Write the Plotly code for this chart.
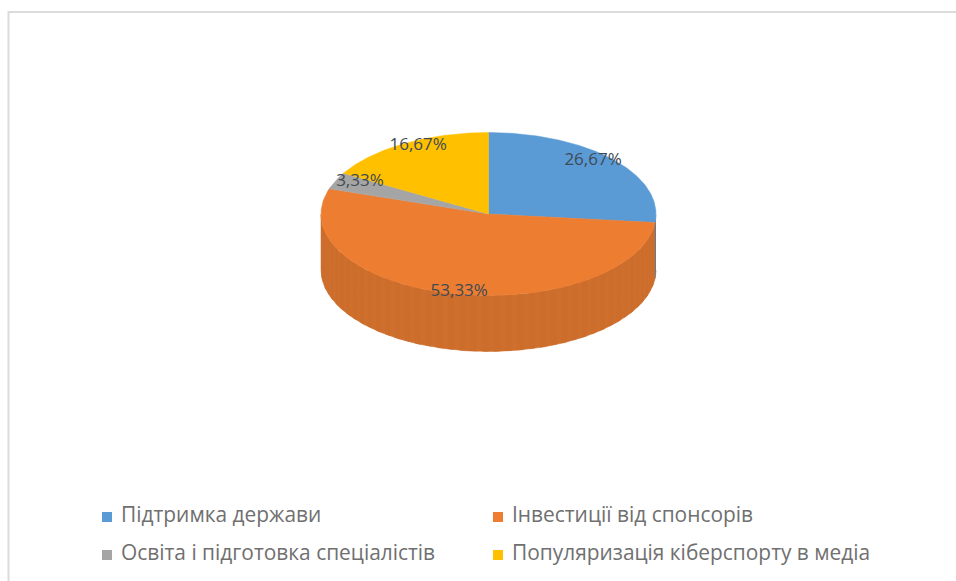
import numpy as np
import plotly.graph_objects as go

categories = ["Підтримка держави", "Інвестиції від спонсорів",
              "Освіта і підготовка спеціалістів", "Популяризація кіберспорту в медіа"]
values = [26.67, 53.33, 3.33, 16.67]
colors = ["#5B9BD5", "#ED7D31", "#A5A5A5", "#FFC000"]
side_colors = ["#4A7FAE", "#CE6F2D", "#8A8A8A", "#D4A000"]
stripe_colors = ["#4A7FAE", "#CC6D2C", "#8A8A8A", "#D4A000"]

W, H = 956, 581
CX, CY, RX, RY, DEPTH = 488.5, 214, 167.5, 81.5, 56
LABEL_FX, LABEL_FY = 0.84, 0.97
LEGEND_POS = [(107, 517), (498, 517), (107, 555), (498, 555)]
LEGEND_TEXT_DX = 14
STRIPE_STEP = 2.0


def pt(theta_deg, dz=0.0):
    t = np.radians(theta_deg)
    return CX + RX * np.sin(t), CY - RY * np.cos(t) + dz


fig = go.Figure()
total = sum(values)
edges = np.concatenate([[0], np.cumsum(values)]) / total * 360

# side wall (front half only)
for i in range(len(values)):
    a, b = max(edges[i], 90), min(edges[i + 1], 270)
    if b <= a:
        continue
    th = np.linspace(a, b, 200)
    x1, y1 = pt(th)
    x2, y2 = pt(th[::-1], DEPTH)
    fig.add_trace(go.Scatter(x=np.r_[x1, x2], y=np.r_[y1, y2], mode="lines", fill="toself",
                             fillcolor=side_colors[i], line=dict(width=0.5, color=side_colors[i]),
                             hoverinfo="skip", showlegend=False))
    # faint vertical facets of the wall
    sx, sy = [], []
    for s in np.arange(a, b - STRIPE_STEP / 2, STRIPE_STEP * 2):
        seg = np.linspace(s, min(s + STRIPE_STEP, b), 4)
        x1, y1 = pt(seg)
        x2, y2 = pt(seg[::-1], DEPTH)
        sx += list(np.r_[x1, x2, x1[0]]) + [None]
        sy += list(np.r_[y1, y2, y1[0]]) + [None]
    fig.add_trace(go.Scatter(x=sx, y=sy, mode="lines", fill="toself",
                             fillcolor=stripe_colors[i], line=dict(width=0),
                             hoverinfo="skip", showlegend=False))

# top face
for i in range(len(values)):
    th = np.linspace(edges[i], edges[i + 1], 200)
    x, y = pt(th)
    fig.add_trace(go.Scatter(x=np.r_[CX, x, CX], y=np.r_[CY, y, CY], mode="lines", fill="toself",
                             fillcolor=colors[i], line=dict(width=0.5, color=colors[i]),
                             name=categories[i], hoverinfo="name", showlegend=False))

# percent labels
mids = (edges[:-1] + edges[1:]) / 2
t = np.radians(mids)
fig.add_trace(go.Scatter(
    x=CX + RX * LABEL_FX * np.sin(t), y=CY - RY * LABEL_FY * np.cos(t),
    mode="text", text=[f"{v:.2f}%".replace(".", ",") for v in values],
    textposition="middle center",
    textfont=dict(family="Open Sans", size=17, color="#404A55"),
    hoverinfo="skip", showlegend=False))

# legend
for i, cat in enumerate(categories):
    lx, ly = LEGEND_POS[i]
    fig.add_trace(go.Scatter(x=[lx], y=[ly], mode="markers",
                             marker=dict(symbol="square", size=10, color=colors[i]),
                             hoverinfo="skip", showlegend=False))
    fig.add_trace(go.Scatter(x=[lx + LEGEND_TEXT_DX], y=[ly], mode="text", text=[cat],
                             textposition="middle right",
                             textfont=dict(family="Open Sans", size=20.9, color="#707070"),
                             hoverinfo="skip", showlegend=False))

fig.add_shape(type="rect", x0=8.5, y0=12, x1=W + 10, y1=H + 10,
              line=dict(color="#DCDCDC", width=2), layer="below")

fig.update_layout(
    width=W, height=H, margin=dict(l=0, r=0, t=0, b=0),
    paper_bgcolor="white", plot_bgcolor="white", showlegend=False,
    xaxis=dict(range=[0, W], visible=False, fixedrange=True),
    yaxis=dict(range=[H, 0], visible=False, fixedrange=True),
)
fig.write_html("out.html", config={"displayModeBar": False},
               post_script="document.documentElement.style.overflow='hidden';document.body.style.margin='0';")
